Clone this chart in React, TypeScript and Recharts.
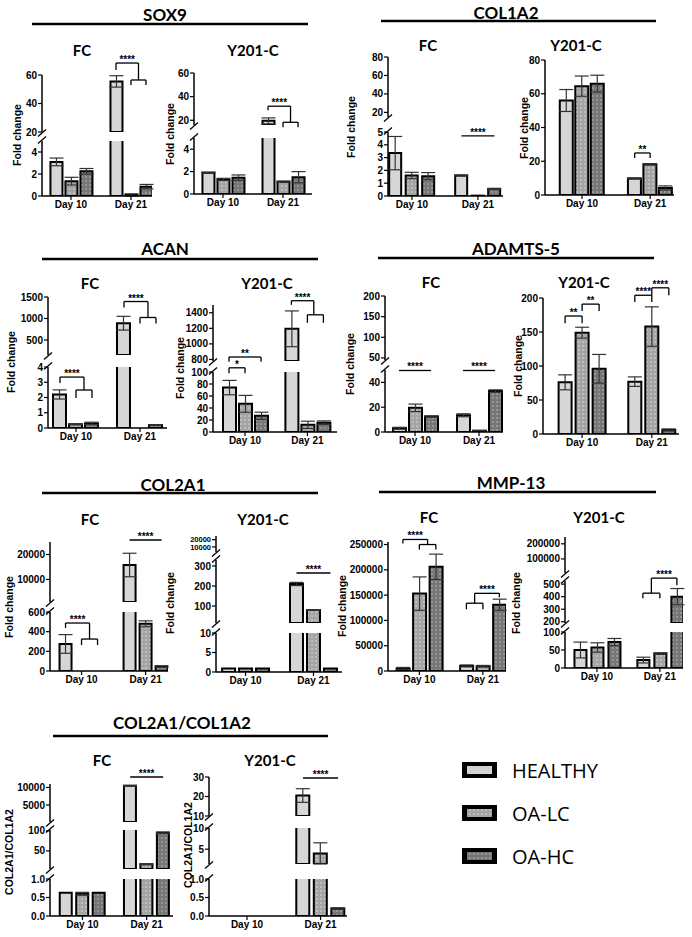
import React from "react";
import { BarChart, Bar, XAxis, YAxis, Cell, ErrorBar, ReferenceLine } from "recharts";

const SERIES = ["HEALTHY", "OA-LC", "OA-HC"];
const DAYS = ["Day 10", "Day 21"];

// mean and SEM, order: Day 10 (HEALTHY, OA-LC, OA-HC), Day 21 (HEALTHY, OA-LC, OA-HC)
const sox9FcMean = [3.1, 1.35, 2.25, 55.5, 0.1, 0.85];
const sox9FcErr = [0.35, 0.35, 0.25, 4, 0.1, 0.2];
const sox9YMean = [1.9, 1.3, 1.45, 19.5, 1.1, 1.5];
const sox9YErr = [0.05, 0.1, 0.25, 2.5, 0.05, 0.5];

const col1a2FcMean = [3.35, 1.6, 1.55, 1.6, 0.03, 0.55];
const col1a2FcErr = [1.3, 0.25, 0.28, 0.04, 0, 0.05];
const col1a2YMean = [56, 64.5, 66, 9.8, 18.2, 4.2];
const col1a2YErr = [6.5, 6, 5, 0.3, 0.4, 1.2];

const acanFcMean = [2.2, 0.25, 0.3, 890, 0, 0.2];
const acanFcErr = [0.3, 0.03, 0.08, 160, 0, 0.02];
const acanYMean = [74, 47, 27, 1194, 12, 15.5];
const acanYErr = [12, 14, 6, 230, 6, 3];

const adamts5FcMean = [3, 19.5, 12.5, 13.5, 1, 33];
const adamts5FcErr = [0.8, 3, 0.5, 1.2, 0.3, 1];
const adamts5YMean = [76, 149, 96, 77, 158, 6];
const adamts5YErr = [11, 8, 21, 7, 29, 1.5];

const col2a1FcMean = [275, 0, 0, 15800, 480, 45];
const col2a1FcErr = [95, 0, 0, 4700, 30, 8];
const col2a1YMean = [0.9, 0.9, 0.9, 210, 80, 0.9];
const col2a1YErr = [0, 0, 0, 8, 2, 0];

const mmp13FcMean = [5000, 153000, 206000, 10000, 9500, 131000];
const mmp13FcErr = [2000, 33000, 25000, 2000, 1500, 11000];
const mmp13YMean = [50, 57, 72, 22, 40, 400];
const mmp13YErr = [22, 13, 10, 8, 2, 65];

const ratioFcMean = [0.63, 0.6, 0.63, 10500, 17, 95];
const ratioFcErr = [0, 0.04, 0, 100, 1, 2];
const ratioYMean = [0, 0, 0, 20.5, 4, 0.2];
const ratioYErr = [0, 0, 0, 3.5, 2.5, 0.02];

const FILLS = ["#d6d6d6", "url(#dotLC)", "url(#dotHC)"];
const FONT = "'Liberation Sans', Arial, sans-serif";
const TFONT = "Lato, 'Open Sans', sans-serif";

const PADT = 34;
const PADR = 8;
const PADB = 6;
const XH = 22;
const YW = 46;

type Seg = { y0: number; y1: number; lo: number; hi: number; ticks: number[]; dec?: number; fs?: number };
type Br = { s: number; x1: number; x2: number; y: number; yl?: number; yr?: number; t?: string };
type Sub = {
  name: string; nx: number; ny: number;
  ax: number; end: number; xLo: number; xHi: number; g: number; bs: number;
  segs: Seg[]; mean: number[]; err: number[]; br: Br[];
  yl: string; lx: number; ly: number;
};
type Panel = { title: string; tx: number; ty: number; l1: number; l2: number; lineY: number; subs: Sub[] };

const PANELS: Panel[] = [
  {
    title: "SOX9", tx: 165, ty: 14, l1: 32, l2: 308, lineY: 24,
    subs: [
      {
        name: "FC", nx: 82, ny: 50, ax: 42, end: 152, xLo: -0.93, xHi: 6.4, g: 4, bs: 12,
        segs: [
          { y0: 75, y1: 132, lo: 20, hi: 60, ticks: [20, 40, 60] },
          { y0: 141, y1: 196, lo: 0, hi: 5, ticks: [0, 2, 4] },
        ],
        mean: sox9FcMean, err: sox9FcErr,
        br: [
          { s: 0, x1: 4, x2: 5.5, y: 68.4, yl: 63.5, yr: 56.5, t: "****" },
          { s: 0, x1: 5, x2: 6, y: 56.5, yl: 53, yr: 53 },
        ],
        yl: "Fold change", lx: 17, ly: 135,
      },
      {
        name: "Y201-C", nx: 253, ny: 50, ax: 194, end: 312, xLo: -0.93, xHi: 6.93, g: 4, bs: 12,
        segs: [
          { y0: 73, y1: 125, lo: 16, hi: 60, ticks: [20, 40, 60] },
          { y0: 138, y1: 194, lo: 0, hi: 5, ticks: [0, 2, 4] },
        ],
        mean: sox9YMean, err: sox9YErr,
        br: [
          { s: 0, x1: 4, x2: 5.5, y: 31.9, yl: 28.5, yr: 18.3, t: "****" },
          { s: 0, x1: 5, x2: 6, y: 18.3, yl: 14, yr: 14 },
        ],
        yl: "Fold change", lx: 170, ly: 134,
      },
    ],
  },
  {
    title: "COL1A2", tx: 506, ty: 12, l1: 381, l2: 656, lineY: 21,
    subs: [
      {
        name: "FC", nx: 428, ny: 45, ax: 388, end: 503, xLo: -0.45, xHi: 6.52, g: 4, bs: 12,
        segs: [
          { y0: 57, y1: 117, lo: 15, hi: 80, ticks: [20, 40, 60, 80] },
          { y0: 132, y1: 196, lo: 0, hi: 5, ticks: [0, 1, 2, 3, 4, 5] },
        ],
        mean: col1a2FcMean, err: col1a2FcErr,
        br: [{ s: 1, x1: 4, x2: 6, y: 4.7, t: "****" }],
        yl: "Fold change", lx: 351, ly: 127,
      },
      {
        name: "Y201-C", nx: 576, ny: 45, ax: 545, end: 674, xLo: -1.39, xHi: 6.94, g: 4.4, bs: 13,
        segs: [{ y0: 60, y1: 195, lo: 0, hi: 80, ticks: [0, 20, 40, 60, 80] }],
        mean: col1a2YMean, err: col1a2YErr,
        br: [{ s: 0, x1: 4.4, x2: 5.4, y: 24.9, yl: 22, yr: 22, t: "**" }],
        yl: "Fold change", lx: 524, ly: 128,
      },
    ],
  },
  {
    title: "ACAN", tx: 165, ty: 248, l1: 42, l2: 318, lineY: 259,
    subs: [
      {
        name: "FC", nx: 90, ny: 283, ax: 48, end: 167, xLo: -0.75, xHi: 6.69, g: 4, bs: 13,
        segs: [
          { y0: 297, y1: 355, lo: 150, hi: 1500, ticks: [500, 1000, 1500] },
          { y0: 367, y1: 428, lo: 0, hi: 4, ticks: [0, 1, 2, 3, 4] },
        ],
        mean: acanFcMean, err: acanFcErr,
        br: [
          { s: 1, x1: 0, x2: 1.5, y: 3.34, yl: 2.95, yr: 2.49, t: "****" },
          { s: 1, x1: 1, x2: 2, y: 2.49, yl: 1.97, yr: 1.97 },
          { s: 0, x1: 4, x2: 5.5, y: 1395, yl: 1256, yr: 1023, t: "****" },
          { s: 0, x1: 5, x2: 6, y: 1023, yl: 884, yr: 884 },
        ],
        yl: "Fold change", lx: 11, ly: 362,
      },
      {
        name: "Y201-C", nx: 267, ny: 283, ax: 213, end: 337, xLo: -1.0, xHi: 6.75, g: 3.9, bs: 13,
        segs: [
          { y0: 305, y1: 361, lo: 780, hi: 1500, ticks: [800, 1000, 1200, 1400] },
          { y0: 372, y1: 432, lo: 0, hi: 100, ticks: [0, 20, 40, 60, 80, 100] },
        ],
        mean: acanYMean, err: acanYErr,
        br: [
          { s: 1, x1: 0, x2: 2, y: 125, yl: 117, yr: 117, t: "**" },
          { s: 1, x1: 0, x2: 1, y: 107, yl: 98, yr: 98, t: "*" },
          { s: 0, x1: 3.9, x2: 5.3, y: 1555, yl: 1503, yr: 1374, t: "****" },
          { s: 0, x1: 4.9, x2: 5.9, y: 1374, yl: 1271, yr: 1271 },
        ],
        yl: "Fold change", lx: 180, ly: 368,
      },
    ],
  },
  {
    title: "ADAMTS-5", tx: 516, ty: 248, l1: 378, l2: 654, lineY: 258,
    subs: [
      {
        name: "FC", nx: 431, ny: 282, ax: 385, end: 503, xLo: -0.875, xHi: 6.5, g: 4, bs: 13,
        segs: [
          { y0: 296, y1: 360, lo: 45, hi: 200, ticks: [50, 100, 150, 200] },
          { y0: 370, y1: 432, lo: 0, hi: 50, ticks: [0, 20, 40] },
        ],
        mean: adamts5FcMean, err: adamts5FcErr,
        br: [
          { s: 1, x1: 0, x2: 2, y: 49.6, t: "****" },
          { s: 1, x1: 4, x2: 6, y: 49.6, t: "****" },
        ],
        yl: "Fold change", lx: 350, ly: 364,
      },
      {
        name: "Y201-C", nx: 584, ny: 282, ax: 543, end: 679, xLo: -1.3, xHi: 6.7, g: 4.1, bs: 13,
        segs: [{ y0: 298, y1: 434, lo: 0, hi: 200, ticks: [0, 50, 100, 150, 200] }],
        mean: adamts5YMean, err: adamts5YErr,
        br: [
          { s: 0, x1: 0, x2: 1, y: 173.5, yl: 163, yr: 163, t: "**" },
          { s: 0, x1: 1, x2: 2, y: 191, yl: 181, yr: 181, t: "**" },
          { s: 0, x1: 4.1, x2: 5.1, y: 204, yl: 194, yr: 194, t: "****" },
          { s: 0, x1: 5.1, x2: 6.1, y: 215, yl: 204, yr: 204, t: "****" },
        ],
        yl: "Fold change", lx: 518, ly: 366,
      },
    ],
  },
  {
    title: "COL2A1", tx: 173, ty: 484, l1: 42, l2: 318, lineY: 493,
    subs: [
      {
        name: "FC", nx: 90, ny: 519, ax: 50, end: 168, xLo: -0.97, xHi: 6.4, g: 4, bs: 12,
        segs: [
          { y0: 542, y1: 602, lo: 1000, hi: 25000, ticks: [10000, 20000] },
          { y0: 612, y1: 671, lo: 0, hi: 600, ticks: [0, 200, 400, 600] },
        ],
        mean: col2a1FcMean, err: col2a1FcErr,
        br: [
          { s: 1, x1: 0, x2: 1.5, y: 488, yl: 437, yr: 325, t: "****" },
          { s: 1, x1: 1, x2: 2, y: 325, yl: 264, yr: 264 },
          { s: 0, x1: 4, x2: 6, y: 25800, t: "****" },
        ],
        yl: "Fold change", lx: 9, ly: 607,
      },
      {
        name: "Y201-C", nx: 263, ny: 519, ax: 216, end: 342, xLo: -0.74, xHi: 6.68, g: 4, bs: 13,
        segs: [
          { y0: 536, y1: 552, lo: 3000, hi: 25000, ticks: [10000, 20000], fs: 7.5 },
          { y0: 560, y1: 623, lo: 15, hi: 330, ticks: [100, 200, 300] },
          { y0: 633, y1: 672, lo: 0, hi: 10, ticks: [0, 5, 10] },
        ],
        mean: col2a1YMean, err: col2a1YErr,
        br: [{ s: 1, x1: 4, x2: 6, y: 265, t: "****" }],
        yl: "Fold change", lx: 170, ly: 603,
      },
    ],
  },
  {
    title: "MMP-13", tx: 511, ty: 482, l1: 379, l2: 656, lineY: 492,
    subs: [
      {
        name: "FC", nx: 429, ny: 517, ax: 388, end: 506, xLo: -0.9, xHi: 6.25, g: 3.85, bs: 13,
        segs: [{ y0: 542, y1: 671, lo: 0, hi: 255000, ticks: [0, 50000, 100000, 150000, 200000, 250000] }],
        mean: mmp13FcMean, err: mmp13FcErr,
        br: [
          { s: 0, x1: 0, x2: 1.5, y: 260000, yl: 252000, yr: 250000, t: "****" },
          { s: 0, x1: 1, x2: 2, y: 250000, yl: 240000, yr: 240000 },
          { s: 0, x1: 3.85, x2: 4.85, y: 134000, yl: 122000, yr: 122000 },
          { s: 0, x1: 4.35, x2: 5.85, y: 153500, yl: 134000, yr: 145700, t: "****" },
        ],
        yl: "Fold change", lx: 342, ly: 606,
      },
      {
        name: "Y201-C", nx: 599, ny: 517, ax: 565, end: 683, xLo: -0.88, xHi: 6.06, g: 3.7, bs: 12,
        segs: [
          { y0: 537, y1: 573, lo: 7000, hi: 245000, ticks: [100000, 200000] },
          { y0: 581, y1: 623, lo: 190, hi: 525, ticks: [200, 300, 400, 500] },
          { y0: 632, y1: 668, lo: 0, hi: 100, ticks: [0, 50, 100] },
        ],
        mean: mmp13YMean, err: mmp13YErr,
        br: [
          { s: 1, x1: 3.7, x2: 4.7, y: 428, yl: 388, yr: 388 },
          { s: 1, x1: 4.2, x2: 5.7, y: 548, yl: 428, yr: 492, t: "****" },
        ],
        yl: "Fold change", lx: 516, ly: 603,
      },
    ],
  },
  {
    title: "COL2A1/COL1A2", tx: 182, ty: 722, l1: 53, l2: 328, lineY: 736,
    subs: [
      {
        name: "FC", nx: 102, ny: 760, ax: 50, end: 173, xLo: -0.97, xHi: 6.5, g: 3.9, bs: 12,
        segs: [
          { y0: 784, y1: 822, lo: 150, hi: 11000, ticks: [5000, 10000] },
          { y0: 830, y1: 869, lo: 5, hi: 102, ticks: [50, 100] },
          { y0: 879, y1: 916, lo: 0, hi: 1, ticks: [0, 0.5, 1], dec: 1 },
        ],
        mean: ratioFcMean, err: ratioFcErr,
        br: [{ s: 0, x1: 3.9, x2: 5.9, y: 13000, t: "****" }],
        yl: "COL2A1/COL1A2", lx: 9, ly: 852,
      },
      {
        name: "Y201-C", nx: 270, ny: 760, ax: 209, end: 347, xLo: -1.17, xHi: 6.71, g: 4.2, bs: 13,
        segs: [
          { y0: 777, y1: 816, lo: 10, hi: 30, ticks: [10, 20, 30] },
          { y0: 828, y1: 864, lo: 1.5, hi: 10, ticks: [5, 10] },
          { y0: 879, y1: 916, lo: 0, hi: 1, ticks: [0, 0.5, 1], dec: 1 },
        ],
        mean: ratioYMean, err: ratioYErr,
        br: [{ s: 0, x1: 4.2, x2: 6.2, y: 29.5, t: "****" }],
        yl: "COL2A1/COL1A2", lx: 188, ly: 845,
      },
    ],
  },
];

const tickStyle = (fs = 10) => ({ fontSize: fs, fontWeight: 700, fill: "#000", fontFamily: FONT });

function Segment({ sub, idx }: { sub: Sub; idx: number }) {
  const seg = sub.segs[idx];
  const last = idx === sub.segs.length - 1;
  const pos = [0, 1, 2, sub.g, sub.g + 1, sub.g + 2];
  // bars lower than this segment are left out, taller ones are clipped at its top
  const rows = sub.mean.map((v, i) => ({
    x: pos[i],
    v: last || v > seg.lo ? v : null,
    e: v >= seg.lo && v <= seg.hi && sub.err[i] > 0 ? sub.err[i] : undefined,
  }));
  const w = YW + (sub.end - sub.ax) + PADR;
  const h = PADT + (seg.y1 - seg.y0) + (last ? XH : PADB);
  const lines: React.ReactNode[] = [];
  sub.br
    .filter((b) => b.s === idx)
    .forEach((b, k) => {
      lines.push(
        <ReferenceLine
          key={`h${k}`}
          segment={[{ x: b.x1, y: b.y }, { x: b.x2, y: b.y }]}
          stroke="#000"
          strokeWidth={1.3}
          ifOverflow="visible"
          label={b.t ? { value: b.t, position: "top", offset: 0, fontSize: 10, fontWeight: 700, fill: "#000", fontFamily: FONT } : undefined}
        />
      );
      if (b.yl !== undefined)
        lines.push(
          <ReferenceLine key={`l${k}`} segment={[{ x: b.x1, y: b.y }, { x: b.x1, y: b.yl }]} stroke="#000" strokeWidth={1.3} ifOverflow="visible" />
        );
      if (b.yr !== undefined)
        lines.push(
          <ReferenceLine key={`r${k}`} segment={[{ x: b.x2, y: b.y }, { x: b.x2, y: b.yr }]} stroke="#000" strokeWidth={1.3} ifOverflow="visible" />
        );
    });
  return (
    <div style={{ position: "absolute", left: sub.ax - YW, top: seg.y0 - PADT }}>
      <BarChart width={w} height={h} data={rows} margin={{ top: PADT, right: PADR, left: 0, bottom: last ? 0 : PADB }}>
        <XAxis
          dataKey="x"
          type="number"
          domain={[sub.xLo, sub.xHi]}
          allowDataOverflow
          ticks={[1, sub.g + 1]}
          tickFormatter={(t: number) => (t === 1 ? DAYS[0] : DAYS[1])}
          hide={!last}
          height={XH}
          tick={tickStyle()}
          tickSize={4}
          tickMargin={1}
          interval={0}
          axisLine={{ stroke: "#000", strokeWidth: 1.5 }}
          tickLine={{ stroke: "#000", strokeWidth: 1.2 }}
        />
        <YAxis
          type="number"
          width={YW}
          domain={[seg.lo, seg.hi]}
          allowDataOverflow
          ticks={seg.ticks}
          interval={0}
          tickFormatter={(t: number) => (seg.dec ? t.toFixed(seg.dec) : String(t))}
          tick={tickStyle(seg.fs)}
          tickSize={4}
          tickMargin={1}
          axisLine={{ stroke: "#000", strokeWidth: 1.5 }}
          tickLine={{ stroke: "#000", strokeWidth: 1.2 }}
        />
        <Bar dataKey="v" barSize={sub.bs} stroke="#000" strokeWidth={2} isAnimationActive={false}>
          {rows.map((r, i) => (
            <Cell key={i} fill={FILLS[i % 3]} />
          ))}
          <ErrorBar dataKey="e" width={7} stroke="#333" strokeWidth={1.2} direction="y" />
        </Bar>
        {lines}
      </BarChart>
    </div>
  );
}

function Breaks({ sub }: { sub: Sub }) {
  const marks: React.ReactNode[] = [];
  for (let i = 0; i < sub.segs.length - 1; i++) {
    [sub.segs[i].y1 + 1, sub.segs[i + 1].y0 - 1].forEach((y, k) => {
      marks.push(<line key={`${i}-${k}`} x1={sub.ax - 4} y1={y + 3.5} x2={sub.ax + 4} y2={y - 3.5} stroke="#000" strokeWidth={1.3} />);
    });
  }
  return <>{marks}</>;
}

function LegendBox({ y, fill, label }: { y: number; fill: string; label: string }) {
  return (
    <g>
      <rect x={462} y={y - 8} width={35} height={16} fill="#000" />
      <rect x={467} y={y - 4} width={25} height={8} fill={fill} />
      <text x={512} y={y} dominantBaseline="central" fontSize={20} fontFamily="'Open Sans', sans-serif" fill="#000">
        {label}
      </text>
    </g>
  );
}

export default function App() {
  return (
    <div style={{ position: "absolute", left: 0, top: 0, width: 692, height: 937, background: "#fff", overflow: "hidden" }}>
      <svg width={0} height={0} style={{ position: "absolute" }}>
        <defs>
          <pattern id="dotLC" width={4} height={4} patternUnits="userSpaceOnUse">
            <rect width={4} height={4} fill="#a4a4a4" />
            <circle cx={2} cy={2} r={0.75} fill="#e4e4e4" />
          </pattern>
          <pattern id="dotHC" width={4} height={4} patternUnits="userSpaceOnUse">
            <rect width={4} height={4} fill="#767676" />
            <circle cx={2} cy={2} r={0.75} fill="#c4c4c4" />
          </pattern>
        </defs>
      </svg>
      {PANELS.map((p) => p.subs.map((s) => s.segs.map((_, i) => <Segment key={`${p.title}-${s.name}-${i}`} sub={s} idx={i} />)))}
      <svg width={692} height={937} style={{ position: "absolute", left: 0, top: 0, pointerEvents: "none" }}>
        {PANELS.map((p) => (
          <g key={p.title}>
            <text x={p.tx} y={p.ty} textAnchor="middle" dominantBaseline="central" fontSize={17} fontWeight={700} fontFamily={TFONT}>
              {p.title}
            </text>
            <line x1={p.l1} x2={p.l2} y1={p.lineY} y2={p.lineY} stroke="#000" strokeWidth={2.5} />
            {p.subs.map((s) => (
              <g key={s.name}>
                <text x={s.nx} y={s.ny} textAnchor="middle" dominantBaseline="central" fontSize={15} fontWeight={700} fontFamily={TFONT}>
                  {s.name}
                </text>
                <text
                  x={s.lx}
                  y={s.ly}
                  textAnchor="middle"
                  dominantBaseline="central"
                  transform={`rotate(-90 ${s.lx} ${s.ly})`}
                  fontSize={10.5}
                  fontWeight={700}
                  fontFamily={FONT}
                >
                  {s.yl}
                </text>
                <Breaks sub={s} />
              </g>
            ))}
          </g>
        ))}
        <LegendBox y={770} fill="#d2d2d2" label={SERIES[0]} />
        <LegendBox y={813} fill="url(#dotLC)" label={SERIES[1]} />
        <LegendBox y={856} fill="url(#dotHC)" label={SERIES[2]} />
      </svg>
    </div>
  );
}
